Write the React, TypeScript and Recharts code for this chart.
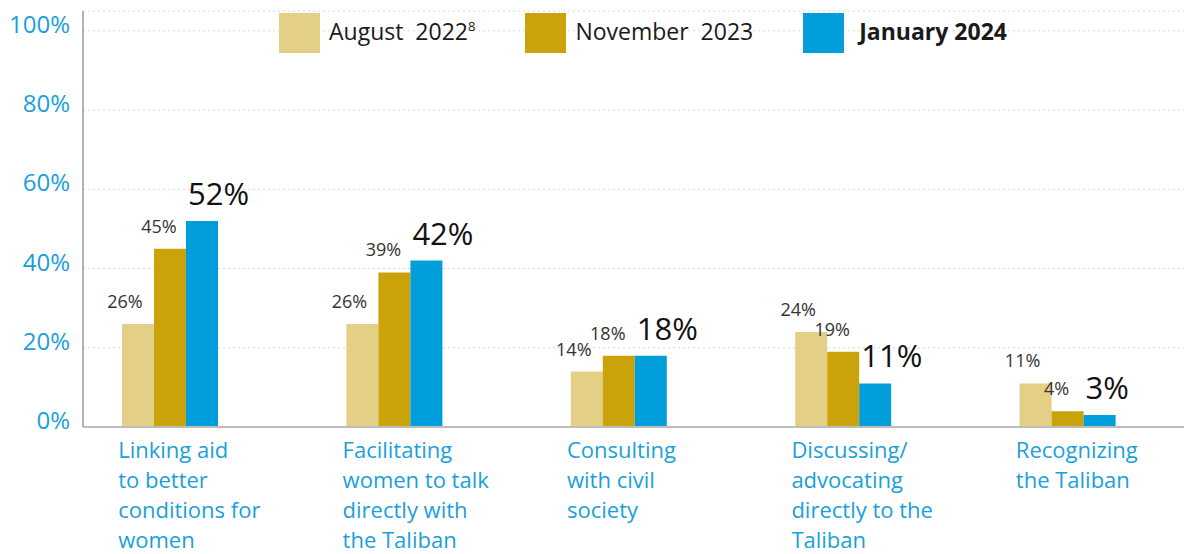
import { BarChart, Bar, XAxis, YAxis, CartesianGrid, Legend, LabelList } from 'recharts'

const categories = [
  ['Linking aid', 'to better', 'conditions for', 'women'],
  ['Facilitating', 'women to talk', 'directly with', 'the Taliban'],
  ['Consulting', 'with civil', 'society'],
  ['Discussing/', 'advocating', 'directly to the', 'Taliban'],
  ['Recognizing', 'the Taliban'],
]
const aug2022 = [26, 26, 14, 24, 11]
const nov2023 = [45, 39, 18, 19, 4]
const jan2024 = [52, 42, 18, 11, 3]
const yTicks = [0, 20, 40, 60, 80, 100]

const series = [
  { key: 'aug', name: 'August  2022', sup: '8', fill: '#e3d086', bold: false },
  { key: 'nov', name: 'November  2023', sup: '', fill: '#c9a309', bold: false },
  { key: 'jan', name: 'January 2024', sup: '', fill: '#009fdc', bold: true },
]

const data = categories.map((c, i) => ({
  name: c.join(' '),
  aug: aug2022[i],
  nov: nov2023[i],
  jan: jan2024[i],
}))

const FONT = '"Open Sans", sans-serif'
const BLUE = '#1a9fdb'

function YTick({ x, y, payload }: any) {
  return (
    <text x={x} y={y + 2} textAnchor="end" fill={BLUE} fontSize={24} fontFamily={FONT}>
      {payload.value}%
    </text>
  )
}

function XTick({ x, y, index }: any) {
  const lines = categories[index] || []
  return (
    <text x={x - 52} y={y + 23} textAnchor="start" fill={BLUE} fontSize={22} fontFamily={FONT}>
      {lines.map((l, i) => (
        <tspan key={i} x={x - 52} dy={i === 0 ? 0 : 30}>{l}</tspan>
      ))}
    </text>
  )
}

function smallLabel(dx: number) {
  return (props: any) => {
    const { x, y, width, value } = props
    return (
      <text x={x + width / 2 + dx} y={y - 16} textAnchor="middle" fill="#333" fontSize={18} fontFamily={FONT}>
        {value}%
      </text>
    )
  }
}

function bigLabel(props: any) {
  const { x, y, value } = props
  return (
    <text x={x + 2} y={y - 16} textAnchor="start" fill="#111" fontSize={31} fontFamily={FONT}>
      {value}%
    </text>
  )
}

function LegendContent() {
  return (
    <div style={{ display: 'flex', alignItems: 'center', fontFamily: FONT, fontSize: 23, color: '#1a1a1a' }}>
      {series.map((s) => (
        <div key={s.key} style={{ display: 'flex', alignItems: 'center', marginRight: 50 }}>
          <div style={{ width: 41, height: 40, background: s.fill, marginRight: s.bold ? 15 : 9 }} />
          <span style={{ fontWeight: s.bold ? 700 : 400, whiteSpace: 'pre', position: 'relative', top: -2 }}>
            {s.name}
            {s.sup && <sup style={{ fontSize: 13 }}>{s.sup}</sup>}
          </span>
        </div>
      ))}
    </div>
  )
}

export default function App() {
  return (
    <div style={{ position: 'absolute', left: 0, top: 0, background: '#fff' }}>
      <BarChart
        width={1184}
        height={554}
        data={data}
        margin={{ top: 11, right: 0, bottom: 0, left: 0 }}
        barGap={0}
        barSize={32}
      >
        <CartesianGrid vertical={false} stroke="#d6d6d6" strokeDasharray="2 3" />
        <XAxis
          dataKey="name"
          height={127}
          padding={{ left: -25, right: 4 }}
          tickLine={false}
          axisLine={{ stroke: '#bdbdbd', strokeWidth: 2 }}
          tick={<XTick />}
          interval={0}
        />
        <YAxis
          width={83}
          domain={[0, 105]}
          ticks={yTicks}
          tickLine={false}
          tickMargin={7}
          axisLine={{ stroke: '#9a9a9a', strokeWidth: 1.5 }}
          tick={<YTick />}
        />
        <Legend
          layout="vertical"
          align="center"
          verticalAlign="middle"
          wrapperStyle={{ top: 13, left: 279, width: 'auto' }}
          content={<LegendContent />}
        />
        <Bar dataKey="aug" fill={series[0].fill} isAnimationActive={false}>
          <LabelList dataKey="aug" content={smallLabel(-13)} />
        </Bar>
        <Bar dataKey="nov" fill={series[1].fill} isAnimationActive={false}>
          <LabelList dataKey="nov" content={smallLabel(-11)} />
        </Bar>
        <Bar dataKey="jan" fill={series[2].fill} isAnimationActive={false}>
          <LabelList dataKey="jan" content={bigLabel} />
        </Bar>
      </BarChart>
    </div>
  )
}
